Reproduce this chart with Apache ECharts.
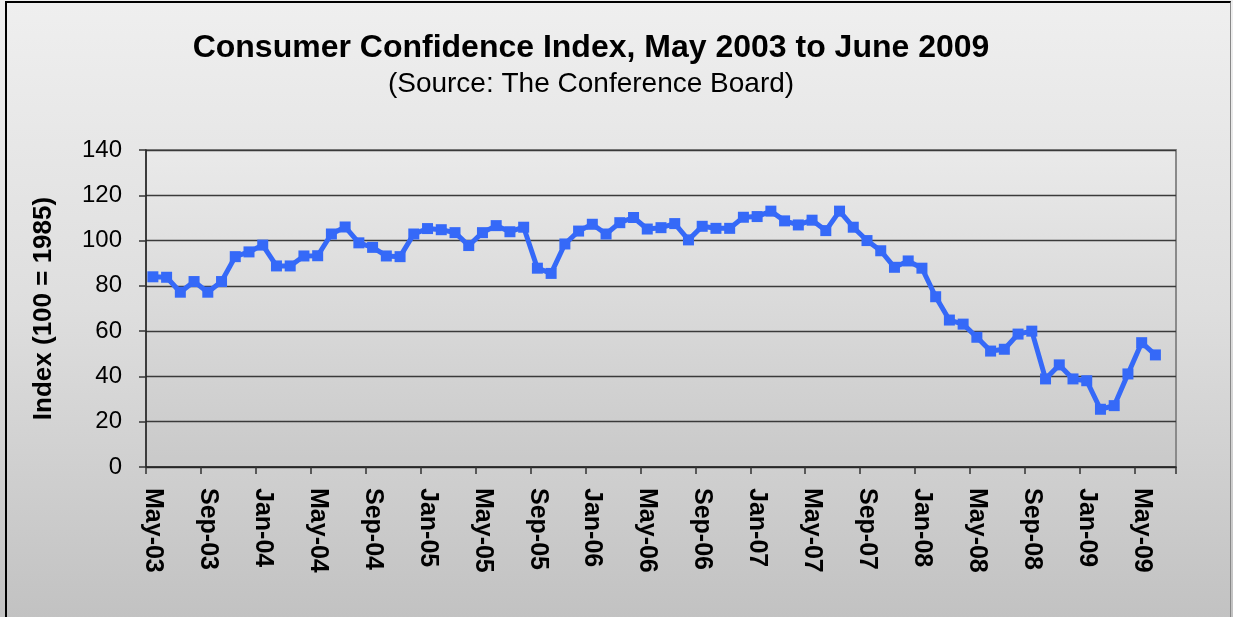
<!DOCTYPE html>
<html>
<head>
<meta charset="utf-8">
<script src="https://cdn.jsdelivr.net/npm/echarts@6/dist/echarts.min.js"></script>
<style>
  html, body { margin: 0; padding: 0; }
  body { width: 1233px; height: 617px; overflow: hidden; }
  #frame { position: absolute; left: 0; top: 0; width: 1233px; height: 617px;
    background: linear-gradient(to bottom, #efefef 0%, #dedede 50%, #c2c2c2 100%); }
  #edge { position: absolute; left: 5px; top: 1px; width: 1226px; height: 620px;
    border-top: 2px solid #000; border-left: 2px solid #000; border-right: 1px solid #888; box-sizing: border-box; }
  #chart { position: absolute; left: 0; top: 0; width: 1233px; height: 617px; }
</style>
</head>
<body>
<div id="frame"></div>
<div id="edge"></div>
<div id="chart"></div>
<script>
const categories = [
  "May-03","Jun-03","Jul-03","Aug-03","Sep-03","Oct-03","Nov-03","Dec-03",
  "Jan-04","Feb-04","Mar-04","Apr-04","May-04","Jun-04","Jul-04","Aug-04","Sep-04","Oct-04","Nov-04","Dec-04",
  "Jan-05","Feb-05","Mar-05","Apr-05","May-05","Jun-05","Jul-05","Aug-05","Sep-05","Oct-05","Nov-05","Dec-05",
  "Jan-06","Feb-06","Mar-06","Apr-06","May-06","Jun-06","Jul-06","Aug-06","Sep-06","Oct-06","Nov-06","Dec-06",
  "Jan-07","Feb-07","Mar-07","Apr-07","May-07","Jun-07","Jul-07","Aug-07","Sep-07","Oct-07","Nov-07","Dec-07",
  "Jan-08","Feb-08","Mar-08","Apr-08","May-08","Jun-08","Jul-08","Aug-08","Sep-08","Oct-08","Nov-08","Dec-08",
  "Jan-09","Feb-09","Mar-09","Apr-09","May-09","Jun-09","Jul-09"
];
const confidenceIndex = [
  84.0, 83.8, 77.2, 81.9, 77.2, 81.9, 92.9, 95.0,
  98.0, 88.8, 88.8, 93.2, 93.3, 102.9, 106.0, 99.0, 97.0, 93.2, 92.9, 102.9,
  105.3, 104.8, 103.5, 97.8, 103.5, 106.6, 103.9, 105.9, 87.8, 85.5, 98.5, 104.2,
  107.2, 102.9, 107.9, 110.2, 105.1, 105.7, 107.5, 100.3, 106.3, 105.4, 105.4, 110.3,
  110.6, 113.0, 108.7, 106.9, 109.0, 104.4, 113.0, 105.9, 100.0, 95.5, 88.2, 91.0,
  87.8, 75.2, 64.9, 63.1, 57.3, 51.2, 52.0, 58.7, 60.0, 38.9, 45.1, 38.9,
  38.1, 25.5, 27.1, 41.1, 54.9, 49.5, null
];
const yTicks = { min: 0, max: 140, step: 20 };

const FONT = 'Liberation Sans, Arial, sans-serif';
const chart = echarts.init(document.getElementById('chart'), null, { renderer: 'canvas' });
chart.setOption({
  backgroundColor: 'transparent',
  animation: false,
  title: [
    { text: 'Consumer Confidence Index, May 2003 to June 2009', left: 586, top: 27, textAlign: 'center',
      textStyle: { fontFamily: FONT, fontWeight: 'bold', fontSize: 32, color: '#000' } },
    { text: '(Source: The Conference Board)', left: 586, top: 65, textAlign: 'center',
      textStyle: { fontFamily: FONT, fontWeight: 'normal', fontSize: 28, color: '#000' } }
  ],
  grid: {
    left: 146, top: 150, right: 57, bottom: 150, show: true,
    backgroundColor: new echarts.graphic.LinearGradient(0, 0, 0, 1, [
      { offset: 0, color: '#eaeaea' }, { offset: 1, color: '#c9c9c9' }
    ]),
    borderColor: '#8a8a8a', borderWidth: 2
  },
  xAxis: {
    type: 'category', data: categories, boundaryGap: true,
    axisLine: { show: true, lineStyle: { color: '#222', width: 1.5 } },
    axisTick: { show: true, interval: 3, length: 7, lineStyle: { color: '#333', width: 1.5 } },
    axisLabel: { interval: 3, rotate: -90, margin: 21, color: '#000', fontWeight: 'bold', fontSize: 25,
      fontFamily: FONT },
    splitLine: { show: false }
  },
  yAxis: {
    type: 'value', min: yTicks.min, max: yTicks.max, interval: yTicks.step,
    name: 'Index (100 = 1985)', nameLocation: 'middle', nameGap: 89, nameRotate: 90,
    nameTextStyle: { fontFamily: FONT, fontWeight: 'bold', fontSize: 26, color: '#000' },
    axisLine: { show: true, lineStyle: { color: '#222', width: 1.5 } },
    axisTick: { show: true, length: 7, inside: false, lineStyle: { color: '#333', width: 1.5 } },
    axisLabel: { margin: 24, fontSize: 24, color: '#000', fontFamily: FONT },
    splitLine: { show: true, lineStyle: { color: '#3a3a3a', width: 1.3 } }
  },
  series: [{
    type: 'line', data: confidenceIndex, connectNulls: false,
    lineStyle: { color: '#3569f8', width: 5 },
    itemStyle: { color: '#3569f8' },
    symbol: 'rect', symbolSize: 11, showAllSymbol: true
  }]
});
</script>
</body>
</html>
